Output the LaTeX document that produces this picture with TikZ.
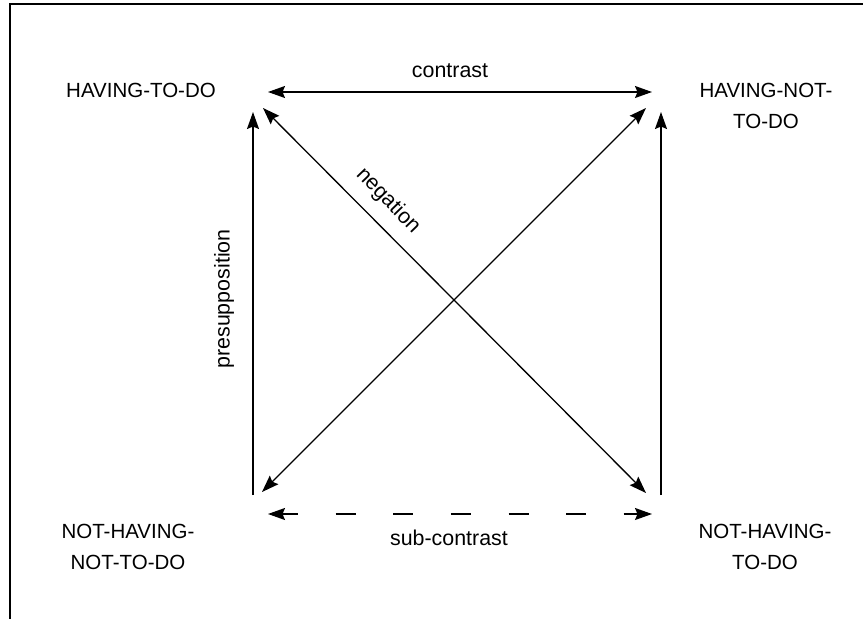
\documentclass[tikz,border=0pt]{standalone}
\usepackage{fontspec}
\setmainfont{Liberation Sans}
\usetikzlibrary{arrows.meta}
\tikzset{
        corner/.style={align=center, font=\fontsize{20.5}{31}\selectfont},
        label/.style={font=\fontsize{21.4}{26}\selectfont},
        link/.style={line width=1.3pt}
    }

\begin{document}
\begin{tikzpicture}[x=1pt, y=-1pt, >={Stealth[length=17pt, width=12pt, inset=2.5pt]}]
            \useasboundingbox (0, 0) rectangle (863, 619);
            \draw [line width=1.5pt] (10, 619) -- (10, 4) -- (863, 4);

            \node [corner, anchor=base] (htd)   at (141,  97) {HAVING-TO-DO};
            \node [corner, anchor=base] (hntd)  at (766, 128) {HAVING-NOT-\\TO-DO};
            \node [corner, anchor=base] (nhntd) at (128, 569) {NOT-HAVING-\\NOT-TO-DO};
            \node [corner, anchor=base] (nhtd)  at (765, 569) {NOT-HAVING-\\TO-DO};

            \coordinate (c1) at (268,  92);
            \coordinate (c2) at (652,  92);
            \coordinate (p1) at (253, 495);
            \coordinate (p2) at (253, 112);
            \coordinate (q1) at (661, 495);
            \coordinate (q2) at (661, 112);
            \coordinate (n1) at (263, 108);
            \coordinate (n2) at (646, 493);
            \coordinate (m1) at (262, 492);
            \coordinate (m2) at (646, 108);
            \coordinate (s1) at (268, 514);
            \coordinate (s2) at (652, 514);

            \draw [link, <->] (c1) -- (c2);
            \draw [link, ->] (p1) -- (p2);
            \draw [link, ->] (q1) -- (q2);
            \draw [link, <->] (n1) -- (n2);
            \draw [link, <->] (m1) -- (m2);
            \draw [link, <->, dash pattern=on 20pt off 37.6pt, dash phase=4pt] (s1) -- (s2);

            \node [label, anchor=base] (contrast) at (450, 77) {contrast};
            \node [label, anchor=base] (subcontrast) at (449, 545) {sub-contrast};
            \node [label, anchor=base, rotate=90] (presupp) at (229.5, 299) {presupposition};
            \node [label, rotate=-46] (negation) at (388, 201) {negation};
        \end{tikzpicture}
\end{document}
